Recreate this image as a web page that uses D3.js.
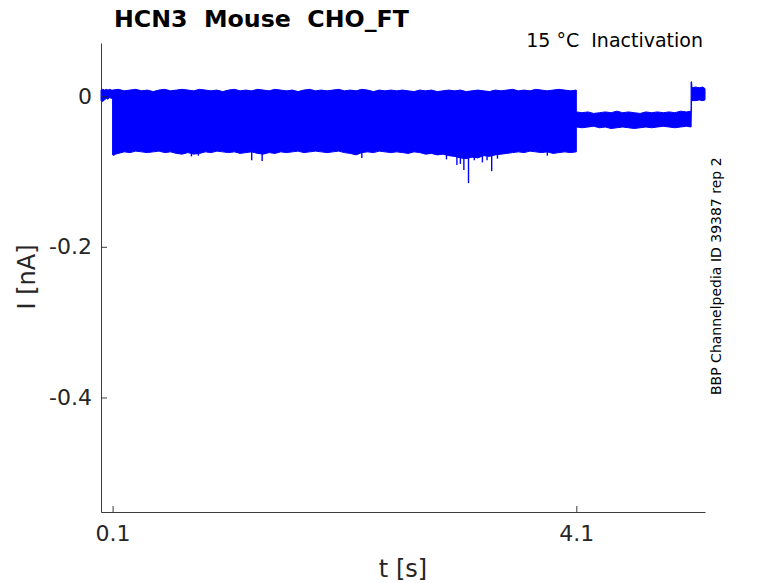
<!DOCTYPE html>
<html>
<head>
<meta charset="utf-8">
<script src="https://cdn.jsdelivr.net/npm/d3@7"></script>
<style>
  body { margin: 0; background: #fff; }
  svg { font-family: "DejaVu Sans", sans-serif; }
</style>
</head>
<body>
<svg id="chart" width="778" height="583"></svg>
<script>
// holding before the step (t in s, current in nA, upper / lower edge of the sweep bundle)
const preT  = [0.000, 0.015, 0.030, 0.045, 0.060, 0.075, 0.090, 0.100];
const preHi = [0.008, 0.009, 0.008, 0.009, 0.008, 0.009, 0.008, 0.008];
const preLo = [-0.006, -0.007, -0.005, -0.003, -0.004, -0.002, -0.003, -0.003];

// test step 0.1 - 4.1 s
const stepT = [
  0.10, 0.15, 0.20, 0.25, 0.30, 0.35, 0.40, 0.45, 0.50, 0.55,
  0.60, 0.65, 0.70, 0.75, 0.80, 0.85, 0.90, 0.95, 1.00, 1.05,
  1.10, 1.15, 1.20, 1.25, 1.30, 1.35, 1.40, 1.45, 1.50, 1.55,
  1.60, 1.65, 1.70, 1.75, 1.80, 1.85, 1.90, 1.95, 2.00, 2.05,
  2.10, 2.15, 2.20, 2.25, 2.30, 2.35, 2.40, 2.45, 2.50, 2.55,
  2.60, 2.65, 2.70, 2.75, 2.80, 2.85, 2.90, 2.95, 3.00, 3.05,
  3.10, 3.15, 3.20, 3.25, 3.30, 3.35, 3.40, 3.45, 3.50, 3.55,
  3.60, 3.65, 3.70, 3.75, 3.80, 3.85, 3.90, 3.95, 4.00, 4.05,
  4.10
];
const stepHi = [
  0.008, 0.009, 0.007, 0.008, 0.009, 0.007, 0.008, 0.006, 0.008, 0.009,
  0.007, 0.008, 0.009, 0.008, 0.007, 0.009, 0.008, 0.007, 0.008, 0.006,
  0.008, 0.009, 0.007, 0.008, 0.007, 0.009, 0.008, 0.007, 0.009, 0.008,
  0.007, 0.008, 0.006, 0.008, 0.009, 0.007, 0.008, 0.007, 0.008, 0.009,
  0.007, 0.008, 0.007, 0.009, 0.008, 0.006, 0.008, 0.007, 0.008, 0.007,
  0.008, 0.007, 0.006, 0.008, 0.007, 0.008, 0.006, 0.007, 0.008, 0.007,
  0.008, 0.006, 0.007, 0.008, 0.007, 0.006, 0.008, 0.007, 0.008, 0.009,
  0.007, 0.008, 0.007, 0.009, 0.008, 0.007, 0.008, 0.009, 0.008, 0.007,
  0.008
];
const stepLo = [
  -0.078, -0.076, -0.074, -0.075, -0.073, -0.074, -0.075, -0.074, -0.073, -0.075,
  -0.074, -0.076, -0.077, -0.075, -0.077, -0.076, -0.074, -0.075, -0.073, -0.074,
  -0.075, -0.074, -0.076, -0.075, -0.074, -0.076, -0.077, -0.075, -0.076, -0.074,
  -0.075, -0.074, -0.073, -0.075, -0.074, -0.073, -0.074, -0.075, -0.074, -0.073,
  -0.075, -0.076, -0.078, -0.075, -0.074, -0.075, -0.073, -0.074, -0.075, -0.074,
  -0.075, -0.076, -0.074, -0.075, -0.077, -0.076, -0.078, -0.077, -0.079, -0.080,
  -0.082, -0.083, -0.081, -0.082, -0.079, -0.080, -0.078, -0.077, -0.076, -0.075,
  -0.074, -0.075, -0.073, -0.074, -0.075, -0.074, -0.076, -0.075, -0.074, -0.075,
  -0.074
];

// short downward transients during the step
const spikeT = [0.11, 0.78, 0.84, 1.30, 1.39, 2.25, 2.98, 3.07, 3.10, 3.13, 3.17, 3.22, 3.29, 3.33, 3.37, 3.42, 3.85];
const spikeI = [-0.079, -0.080, -0.079, -0.085, -0.086, -0.082, -0.084, -0.0915, -0.090, -0.098, -0.1155, -0.085, -0.088, -0.085, -0.0996, -0.083, -0.079];

// post-step level 4.1 - 5.09 s
const postT  = [4.10, 4.15, 4.20, 4.25, 4.30, 4.35, 4.40, 4.45, 4.50, 4.55, 4.60, 4.65, 4.70, 4.75, 4.80, 4.85, 4.90, 4.95, 5.00, 5.05, 5.09];
const postHi = [-0.021, -0.022, -0.021, -0.023, -0.022, -0.021, -0.022, -0.020, -0.022, -0.021, -0.022, -0.023, -0.021, -0.022, -0.021, -0.022, -0.021, -0.022, -0.020, -0.021, -0.020];
const postLo = [-0.041, -0.042, -0.041, -0.040, -0.042, -0.041, -0.043, -0.042, -0.041, -0.042, -0.043, -0.042, -0.041, -0.042, -0.041, -0.040, -0.041, -0.042, -0.041, -0.040, -0.041];

// return to holding
const endT  = [5.090, 5.094, 5.098, 5.130, 5.160, 5.190, 5.210];
const endHi = [0.019, 0.019, 0.011, 0.012, 0.011, 0.012, 0.010];
const endLo = [-0.041, -0.004, -0.006, -0.006, -0.005, -0.006, -0.005];

const xTicks = [0.1, 4.1];
const xTickLabels = ["0.1", "4.1"];
const yTicks = [0, -0.2, -0.4];
const yTickLabels = ["0", "-0.2", "-0.4"];

const margin = { top: 43, right: 73, bottom: 71, left: 101 };
const width = 778 - margin.left - margin.right;
const height = 583 - margin.top - margin.bottom;
const ink = "#262626";

const x = d3.scaleLinear().domain([0, 5.21]).range([0, width]);
const y = d3.scaleLinear().domain([-0.552, 0.0705]).range([height, 0]);

const env = [];
[[preT, preHi, preLo], [stepT, stepHi, stepLo], [postT, postHi, postLo], [endT, endHi, endLo]]
  .forEach(([ts, hs, ls]) => ts.forEach((t, i) => env.push({ t: t, hi: hs[i], lo: ls[i] })));

const svg = d3.select("#chart");
const g = svg.append("g").attr("transform", "translate(" + margin.left + "," + margin.top + ")");

const area = d3.area()
  .x(d => x(d.t))
  .y0(d => y(d.lo))
  .y1(d => y(d.hi));

g.append("path")
  .datum(env)
  .attr("d", area)
  .attr("fill", "#0000ff")
  .attr("stroke", "#0000ff")
  .attr("stroke-width", 1)
  .attr("stroke-linejoin", "miter");

g.selectAll(".spike")
  .data(spikeT.map((t, i) => ({ t: t, i: spikeI[i] })))
  .join("line")
  .attr("class", "spike")
  .attr("x1", d => x(d.t))
  .attr("x2", d => x(d.t))
  .attr("y1", y(-0.07))
  .attr("y2", d => y(d.i))
  .attr("stroke", "#0000ff")
  .attr("stroke-width", 1.4);

// axes, ticks pointing inward
const xAxis = g.append("g")
  .attr("transform", "translate(0," + height + ")")
  .call(d3.axisBottom(x).tickValues(xTicks)
    .tickFormat((d, i) => xTickLabels[i])
    .tickSizeInner(-6).tickSizeOuter(0).tickPadding(13));

const yAxis = g.append("g")
  .call(d3.axisLeft(y).tickValues(yTicks)
    .tickFormat((d, i) => yTickLabels[i])
    .tickSizeInner(-6).tickSizeOuter(0).tickPadding(9));

[xAxis, yAxis].forEach(a => {
  a.select(".domain").attr("stroke", ink).attr("stroke-width", 0.9);
  a.selectAll(".tick line").attr("stroke", ink).attr("stroke-width", 0.9);
  a.selectAll(".tick text")
    .attr("fill", ink)
    .style("font-size", "22px")
    .style("font-family", "DejaVu Sans");
});

svg.append("text")
  .attr("x", margin.left + width / 2)
  .attr("y", 577)
  .attr("text-anchor", "middle")
  .attr("fill", ink)
  .style("font-size", "24px")
  .text("t [s]");

svg.append("text")
  .attr("transform", "translate(35,277) rotate(-90)")
  .attr("text-anchor", "middle")
  .attr("fill", ink)
  .style("font-size", "24px")
  .text("I [nA]");

svg.append("text")
  .attr("x", 114)
  .attr("y", 27)
  .attr("fill", "#000")
  .style("font-size", "23.7px")
  .style("font-weight", "bold")
  .style("white-space", "pre")
  .text("HCN3  Mouse  CHO_FT");

svg.append("text")
  .attr("x", 703)
  .attr("y", 47)
  .attr("text-anchor", "end")
  .attr("fill", "#000")
  .style("font-size", "19px")
  .style("white-space", "pre")
  .text("15 °C  Inactivation");

svg.append("text")
  .attr("transform", "translate(721,395) rotate(-90)")
  .attr("fill", "#000")
  .style("font-size", "14px")
  .text("BBP Channelpedia ID 39387 rep 2");
</script>
</body>
</html>
